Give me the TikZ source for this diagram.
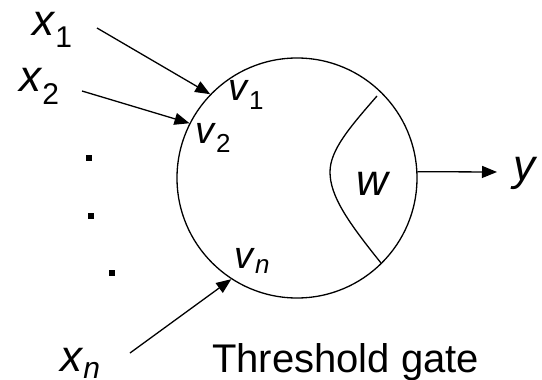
\documentclass[tikz,border=0pt]{standalone}
\usepackage{fontspec}
\setmainfont{Liberation Sans}
\usetikzlibrary{arrows.meta}
\begin{document}
\begin{tikzpicture}[x=1pt,y=-1pt,
  lbl/.style={inner sep=0pt,anchor=base west,font=\fontsize{44}{50}\selectfont},
  vlbl/.style={inner sep=0pt,anchor=base west,font=\fontsize{38}{44}\selectfont},
  caplbl/.style={inner sep=0pt,anchor=base west,font=\fontsize{40}{46}\selectfont},
  wire/.style={line width=1.3pt,-{Triangle[length=15pt,width=12pt]}},
  curveline/.style={line width=1.3pt},
  dotm/.style={fill=black,inner sep=0pt,minimum size=6pt}]
\useasboundingbox (0,0) rectangle (542,380);
\node[draw,circle,line width=1.3pt,minimum size=240pt,inner sep=0pt] (gate) at (297,178) {};
% labels
\node[lbl] (x1) at (32,35) {\textit{x}\textsubscript{\fontsize{30}{34}\selectfont 1}};
\node[lbl] (x2) at (19,92) {\textit{x}\textsubscript{\fontsize{30}{34}\selectfont 2}};
\node[lbl] (xn) at (60,371) {\textit{x}\textsubscript{\fontsize{30}{34}\itshape n}};
\node[vlbl] (v1) at (228,100) {\textit{v}\textsubscript{\fontsize{26}{30}\selectfont 1}};
\node[vlbl] (v2) at (195,143) {\textit{v}\textsubscript{\fontsize{26}{30}\selectfont 2}};
\node[vlbl] (vn) at (234,268) {\textit{v}\textsubscript{\fontsize{26}{30}\itshape n}};
\node[lbl] (w) at (356,195) {\textit{w}};
\node[lbl] (y) at (513,180) {\textit{y}};
\node[caplbl] (tg) at (212,372) {Threshold gate};
% dots
\node[dotm] (d1) at (89,158) {};
\node[dotm] (d2) at (91,216) {};
\node[dotm] (d3) at (112,273) {};
% arrow starts
\coordinate (a1) at (97,28);
\coordinate (a2) at (82,91);
\coordinate (an) at (130,353);
\coordinate (ao) at (497,172);
\draw[wire] (a1) -- (gate.136);
\draw[wire] (a2) -- (gate.153);
\draw[wire] (an) -- (gate.237);
\draw[wire] (gate.3) -- (ao);
% inner curve
\draw[curveline] (377,96) .. controls (350,127) and (330,150) .. (330,172)
  .. controls (330,196) and (348,222) .. (381,263);
\end{tikzpicture}
\end{document}
